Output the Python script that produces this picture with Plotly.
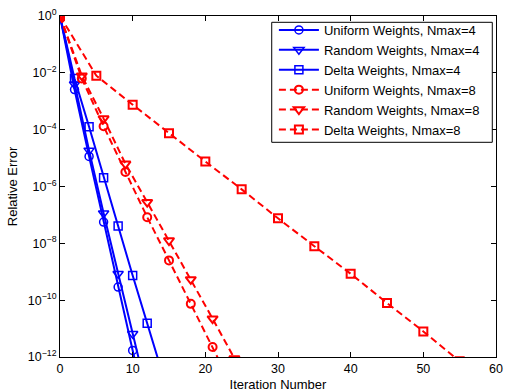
import plotly.graph_objects as go

# Nmax = 4 (markers every 2 iterations)
iter_n4 = [0, 2, 4, 6, 8, 10, 12, 14]
uniform_n4_exp = [0, -2.59, -4.94, -7.25, -9.54, -11.77, -14.0, -16.2]
random_n4_exp = [0, -2.40, -4.73, -6.94, -9.07, -11.18, -13.3, -15.4]
delta_n4_exp = [0, -2.20, -3.90, -5.69, -7.39, -9.13, -10.81, -12.5]

# Nmax = 8
iter_n8_ur = [0, 3, 6, 9, 12, 15, 18, 21, 24]
uniform_n8_exp = [0, -2.20, -3.88, -5.49, -7.08, -8.60, -10.13, -11.65, -13.2]
random_n8_exp = [0, -2.10, -3.61, -5.20, -6.55, -7.90, -9.27, -10.65, -12.05]
iter_n8_d = [0, 5, 10, 15, 20, 25, 30, 35, 40, 45, 50, 55]
delta_n8_exp = [0, -2.10, -3.12, -4.13, -5.12, -6.10, -7.12, -8.10, -9.07, -10.10, -11.10, -12.15]

names = ["Uniform Weights, Nmax=4", "Random Weights, Nmax=4", "Delta Weights, Nmax=4",
         "Uniform Weights, Nmax=8", "Random Weights, Nmax=8", "Delta Weights, Nmax=8"]

y_tickvals_exp = [0, -2, -4, -6, -8, -10, -12]
y_ticktext = ["10<sup>0</sup>", "10<sup>−2</sup>", "10<sup>−4</sup>", "10<sup>−6</sup>",
              "10<sup>−8</sup>", "10<sup>−10</sup>", "10<sup>−12</sup>"]
x_tickvals = [0, 10, 20, 30, 40, 50, 60]

FONT = "Liberation Sans, Arial, Helvetica, sans-serif"
BLUE = "#0000FF"
RED = "#FF0000"

def pw(v):
    return [10 ** e for e in v]

series = [
    (iter_n4, uniform_n4_exp, BLUE, "circle-open", "solid", 1.5, 8),
    (iter_n4, random_n4_exp, BLUE, "triangle-down-open", "solid", 1.5, 9),
    (iter_n4, delta_n4_exp, BLUE, "square-open", "solid", 1.5, 8),
    (iter_n8_ur, uniform_n8_exp, RED, "circle-open", "7px,4px", 2, 8),
    (iter_n8_ur, random_n8_exp, RED, "triangle-down-open", "7px,4px", 2, 9),
    (iter_n8_d, delta_n8_exp, RED, "square-open", "7px,4px", 2, 8),
]

fig = go.Figure()
for (xs, ys, col, sym, dash, mlw, ms), name in zip(series, names):
    fig.add_trace(go.Scatter(
        x=xs, y=pw(ys), name=name, mode="lines+markers",
        line=dict(color=col, width=2, dash=dash),
        marker=dict(symbol=sym, size=ms, color=col, line=dict(color=col, width=mlw)),
    ))

axis_common = dict(showline=True, linecolor="black", linewidth=1, mirror="ticks",
                   ticks="inside", ticklen=5, tickcolor="black", tickwidth=1,
                   showgrid=False, zeroline=False, automargin=False,
                   tickfont=dict(family=FONT, size=12.5, color="black"))

# legend frame (drawn as a shape so its size matches the original box)
fig.add_shape(type="rect", xref="paper", yref="paper",
              x0=0.4856, x1=0.9915, y0=0.6296, y1=0.9815,
              line=dict(color="black", width=1), fillcolor="white", layer="above")

fig.update_layout(
    width=506, height=392,
    margin=dict(l=60, r=10, t=16, b=35),
    paper_bgcolor="white", plot_bgcolor="white",
    font=dict(family=FONT, size=13, color="black"),
    xaxis=dict(range=[0, 60], tickvals=x_tickvals,
               title=dict(text="Iteration Number", font=dict(size=13), standoff=4),
               **axis_common),
    yaxis=dict(type="log", range=[-12, 0], tickvals=pw(y_tickvals_exp), ticktext=y_ticktext,
               title=dict(text="Relative Error", font=dict(size=13), standoff=7),
               **axis_common),
    legend=dict(x=0.4906, y=1.003, xanchor="left", yanchor="top",
                bgcolor="rgba(0,0,0,0)", borderwidth=0,
                font=dict(family=FONT, size=13, color="black"),
                itemwidth=40, tracegroupgap=0),
    showlegend=True,
)

fig.write_html("out.html", config={"displayModeBar": False},
               post_script="document.body.style.margin='0';document.body.style.padding='0';")
